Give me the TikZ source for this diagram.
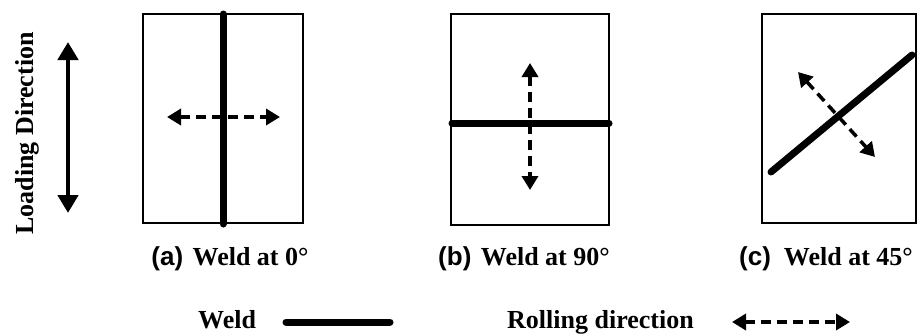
\documentclass[tikz,border=0pt]{standalone}
\usepackage{fontspec}
\setmainfont{Liberation Serif}
\newfontfamily\tagfont{Liberation Sans}
\usetikzlibrary{arrows.meta}

\begin{document}
\begin{tikzpicture}[x=1pt, y=-1pt,
	plate/.style={draw, line width=1.3pt},
	weld/.style={line width=7pt, line cap=round},
	rolling/.style={line width=3.5pt, dash pattern=on 10pt off 6pt,
		{Triangle[length=14pt,width=16pt]}-{Triangle[length=14pt,width=16pt]}},
	loading/.style={line width=4.5pt,
		{Triangle[length=18pt,width=20pt]}-{Triangle[length=18pt,width=20pt]}},
	txt/.style={font=\fontsize{26}{30}\selectfont\bfseries, inner sep=0pt}]
		\useasboundingbox (0,0) rectangle (917,335);

		\node[txt, rotate=90, anchor=base] (loadtext) at (33,133.5) {Loading Direction};
		\draw[loading] (68,42) -- (68,213);

		\draw[plate] (143,14) rectangle (303,223);
		\draw[plate] (451,14) rectangle (609,225);
		\draw[plate] (762,14) rectangle (916,223);

		\draw[weld] (223,14) -- (223,224);
		\draw[weld] (452,123) -- (609,123);
		\draw[weld] (771,172) -- (912,55);

		\draw[rolling] (167,117) -- (280,117);
		\draw[rolling] (530,63) -- (530,190);
		\draw[rolling] (798,72) -- (875,157);

		\node[txt, anchor=base] (capa) at (230,265) {{\tagfont(a)}\hspace{3pt} Weld at 0°};
		\node[txt, anchor=base] (capb) at (524,265) {{\tagfont(b)}\hspace{3pt} Weld at 90°};
		\node[txt, anchor=base] (capc) at (826,265) {{\tagfont(c)}\ \ Weld at 45°};

		\node[txt, anchor=base west] (weldkey) at (198,328) {Weld};
		\draw[weld] (286,322) -- (390,322);
		\node[txt, anchor=base west] (rollkey) at (507,328) {Rolling direction};
		\draw[rolling] (732,322) -- (850,322);

	\end{tikzpicture}
\end{document}
